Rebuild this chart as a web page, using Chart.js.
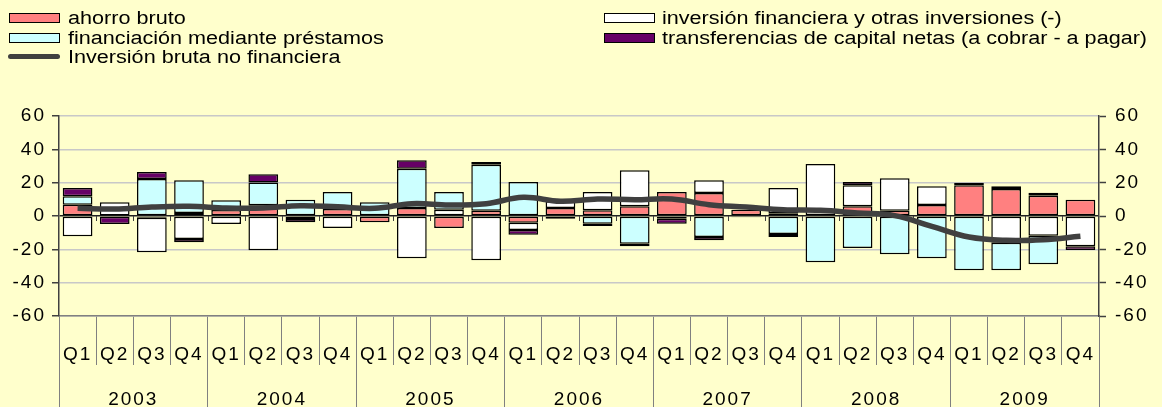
<!DOCTYPE html>
<html>
<head>
<meta charset="utf-8">
<script src="https://cdn.jsdelivr.net/npm/chart.js@4.4.0/dist/chart.umd.min.js"></script>
<style>
  html, body { margin: 0; padding: 0; background: #FFFFCC; }
  #wrap { position: relative; width: 1162px; height: 407px; background: #FFFFCC; overflow: hidden; }
  #chart { position: absolute; left: 0; top: 0; }
  .leg { position: absolute; font-family: "Liberation Sans", Arial, sans-serif; font-size: 18px; color: #000;
         white-space: nowrap; line-height: 20px; transform: scaleX(1.2); transform-origin: 0 0; }
  .sw { position: absolute; width: 49px; height: 8px; border: 1.5px solid #000; }
  .ln { position: absolute; width: 52px; height: 5px; border-radius: 3px; background: #404040; }
</style>
</head>
<body>
<div id="wrap">
  <canvas id="chart" width="1162" height="407"></canvas>
  <div class="sw" style="left:9px;top:13px;background:#FF8080"></div>
  <div class="leg" style="left:68px;top:8px">ahorro bruto</div>
  <div class="sw" style="left:9px;top:33px;background:#CCFFFF"></div>
  <div class="leg" style="left:68px;top:28px">financiación mediante préstamos</div>
  <div class="ln" style="left:8px;top:54px"></div>
  <div class="leg" style="left:68px;top:47px">Inversión bruta no financiera</div>
  <div class="sw" style="left:604px;top:13px;background:#FFFFFF"></div>
  <div class="leg" style="left:662px;top:8px">inversión financiera y otras inversiones (-)</div>
  <div class="sw" style="left:604px;top:33px;background:#660066"></div>
  <div class="leg" style="left:662px;top:28px">transferencias de capital netas (a cobrar - a pagar)</div>
</div>
<script>
// quarters and years on the two-level x axis
const quarters = ['Q1', 'Q2', 'Q3', 'Q4', 'Q1', 'Q2', 'Q3', 'Q4', 'Q1', 'Q2', 'Q3', 'Q4', 'Q1', 'Q2',
                  'Q3', 'Q4', 'Q1', 'Q2', 'Q3', 'Q4', 'Q1', 'Q2', 'Q3', 'Q4', 'Q1', 'Q2', 'Q3', 'Q4'];
const years = ['2003', '2004', '2005', '2006', '2007', '2008', '2009'];
const yTicks = [-60, -40, -20, 0, 20, 40, 60];

// series values
const ahorroBruto = [6.8, 0.3, -1, 1.8, 3.6, 6.5, -0.6, 4.2, -3.8, 4.8, -7.2, 3.2, -4, 4.8,
                     3.4, 5.8, 14.4, 13.8, 3.8, 1.6, 0.6, 5.8, 3.2, 6.6, 18.4, 16.2, 12.2, 9.8];
const inversionFinanciera = [-12.2, 8, -20.8, -13.8, -4.8, -20.6, -1.2, -7.2, 0, -25.4, 3.8, -26.6, -4.4, 4,
                             11, 21.6, -1.6, 7.6, 0, 15.2, 30.6, 12.6, 19.4, 11.2, 0, -16, -11.8, -18.2];
const financiacion = [5, 0, 22.2, 19.6, 5.8, 13.6, 9.8, 10.2, 8.2, 23.6, 10.6, 27.6, 20.4, -1.6,
                      -4.6, -16.6, 0, -12.6, -0.8, -10.8, -27.8, -19.2, -23, -25.4, -32.6, -16.6, -17.2, 0];
const transferencias = [5, -4.8, 4.2, -2, 0, 5, -2, 0, 0, 5, 0, 1.6, -2.8, 0,
                        -1.4, -1.6, -3, -2, 0, -1.8, 0, 2, 0, 0, 1.6, 1.6, 1.8, -2.2];
const inversionBruta = [4.6, 4.2, 5.4, 5.8, 4.8, 4.8, 6.2, 5.5, 4.6, 7.4, 6.6, 7.4, 11.2, 8.8,
                        10.2, 9.8, 10.2, 6.8, 5.4, 3.8, 3.4, 1.8, 0.2, -6.2, -12.6, -14.6, -14.2, -12.2];

const FONT = { family: '"Liberation Sans", Arial, sans-serif', size: 19 };

// the reference text is a little wider than plain Arial
const wideText = {
    id: 'wideText',
    beforeDraw(chart) {
        chart.ctx.letterSpacing = '2px';
    }
};

// little tick marks on the zero line at each category boundary
const zeroTicks = {
    id: 'zeroTicks',
    beforeDatasetsDraw(chart) {
        const x = chart.scales.x, y = chart.scales.y;
        const y0 = y.getPixelForValue(0);
        const step = x.width / quarters.length;
        const c = chart.ctx;
        c.save();
        c.strokeStyle = '#404040';
        c.lineWidth = 1;
        c.beginPath();
        for (let i = 1; i < quarters.length; i++) {
            const px = Math.round(x.left + i * step) + 0.5;
            c.moveTo(px, y0);
            c.lineTo(px, y0 + 5);
        }
        c.stroke();
        c.restore();
    }
};

function barSet(label, data, color) {
    return {
        type: 'bar', label: label, data: data,
        backgroundColor: color, borderColor: '#000', borderWidth: 1.5,
        borderSkipped: false, barPercentage: 0.8, categoryPercentage: 1.0,
        xAxisID: 'x', yAxisID: 'y', order: 1
    };
}

const ctx = document.getElementById('chart').getContext('2d');
new Chart(ctx, {
    data: {
        labels: quarters,
        datasets: [
            {
                type: 'line', label: 'Inversión bruta no financiera', data: inversionBruta,
                borderColor: '#404040', borderWidth: 5.5, pointRadius: 0, tension: 0.4,
                fill: false, stack: 'line', xAxisID: 'x', yAxisID: 'y', order: 0
            },
            barSet('ahorro bruto', ahorroBruto, '#FF8080'),
            barSet('inversión financiera y otras inversiones (-)', inversionFinanciera, '#FFFFFF'),
            barSet('financiación mediante préstamos', financiacion, '#CCFFFF'),
            barSet('transferencias de capital netas (a cobrar - a pagar)', transferencias, '#660066')
        ]
    },
    options: {
        responsive: false,
        animation: false,
        layout: { padding: { top: 116, left: 0, right: 0, bottom: 0 } },
        plugins: { legend: { display: false }, tooltip: { enabled: false } },
        scales: {
            x: {
                stacked: true, position: 'bottom', weight: 0,
                grid: { offset: true, drawOnChartArea: false, tickLength: 49, color: '#808080', lineWidth: 1 },
                border: { display: true, color: '#808080', width: 1.5 },
                ticks: { font: FONT, color: '#000', padding: -22, maxRotation: 0, autoSkip: false },
                afterFit(s) { s.height = 49; }
            },
            years: {
                type: 'category', labels: years, position: 'bottom', weight: 1, offset: true,
                grid: { offset: true, drawOnChartArea: false, tickLength: 42, color: '#808080', lineWidth: 1 },
                border: { display: false },
                ticks: { font: FONT, color: '#000', padding: -19, maxRotation: 0, autoSkip: false },
                afterFit(s) { s.height = 42; }
            },
            y: {
                stacked: true, position: 'left', min: -60, max: 60,
                afterBuildTicks(s) { s.ticks = yTicks.map(v => ({ value: v })); },
                grid: {
                    color: c => c.tick && c.tick.value === 0 ? '#202020' : '#c8c8c8',
                    lineWidth: 1.5,
                    tickLength: 7, tickColor: '#404040', tickWidth: 1.5
                },
                border: { display: true, color: '#404040', width: 1.5 },
                ticks: { font: FONT, color: '#000', padding: 6 },
                afterFit(s) { s.width = 59; }
            },
            y2: {
                position: 'right', min: -60, max: 60,
                afterBuildTicks(s) { s.ticks = yTicks.map(v => ({ value: v })); },
                grid: { drawOnChartArea: false, tickLength: 7, tickColor: '#404040', tickWidth: 1.5 },
                border: { display: true, color: '#404040', width: 1.5 },
                ticks: { font: FONT, color: '#000', padding: 9 },
                afterFit(s) { s.width = 63; }
            }
        }
    },
    plugins: [wideText, zeroTicks]
});
</script>
</body>
</html>
